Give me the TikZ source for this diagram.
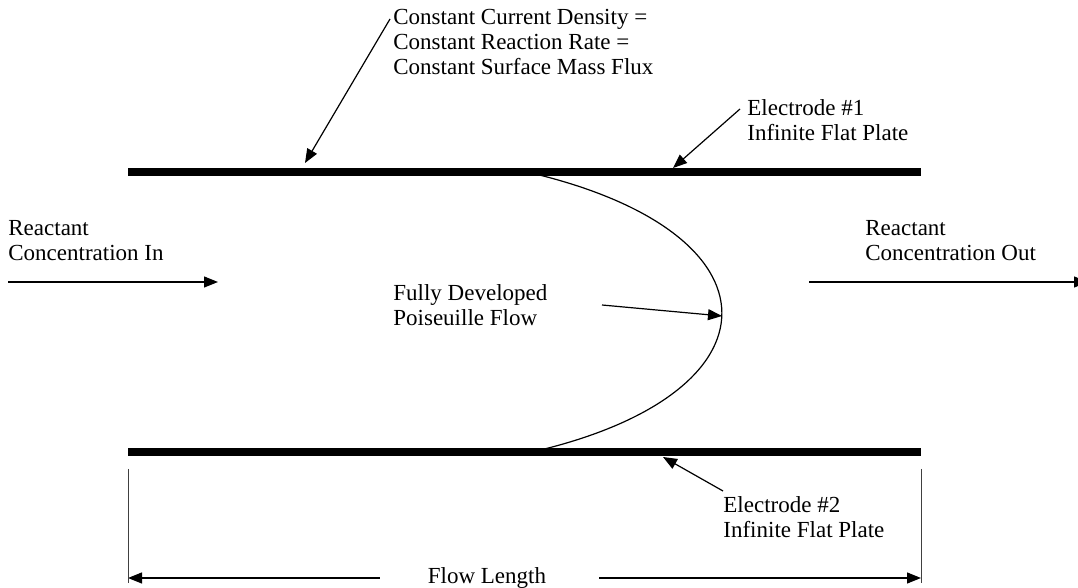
\documentclass[tikz,border=0pt]{standalone}
\usepackage{fontspec}
\setmainfont{Liberation Serif}
\usetikzlibrary{arrows.meta}
\begin{document}
\begin{tikzpicture}[x=0.5pt,y=-0.5pt,
  lbl/.style={font=\fontsize{11.5}{12.5}\selectfont, align=left, inner sep=0pt, anchor=north west},
  plate/.style={line width=4pt},
  thin/.style={line width=0.6pt},
  conn/.style={line width=0.6pt, -{Triangle[length=7pt,width=5.5pt]}},
  tick/.style={line width=0.45pt, black!75},
]
\useasboundingbox (0,0) rectangle (1078,588);
% plates
\coordinate (p1l) at (128,172);
\coordinate (p1r) at (921,172);
\coordinate (p2l) at (128,452);
\coordinate (p2r) at (921,452);
\draw[plate] (p1l) -- (p1r);
\draw[plate] (p2l) -- (p2r);
% velocity profile
\coordinate (ptop) at (527,172);
\coordinate (pbot) at (532,452);
\coordinate (apex) at (722,316);
\draw[thin] (ptop) .. controls (787,232) and (785,394) .. (pbot);
% labels
\node[lbl] (cc) at (393,9) {Constant Current Density =\\Constant Reaction Rate =\\Constant Surface Mass Flux};
\node[lbl] (e1) at (747,99) {Electrode \#1\\Infinite Flat Plate};
\node[lbl] (rin) at (8,220) {Reactant\\Concentration In};
\node[lbl] (rout) at (865,220) {Reactant\\Concentration Out};
\node[lbl] (fd) at (393,284) {Fully Developed\\Poiseuille Flow};
\node[lbl] (e2) at (723,496) {Electrode \#2\\Infinite Flat Plate};
\node[font=\fontsize{11.5}{12.5}\selectfont, inner sep=0pt, anchor=base] (fl) at (487,583) {Flow Length};
% arrow targets
\coordinate (ccTip) at (305,163);
\coordinate (e1Tip) at (673,168);
\coordinate (e2Tip) at (663,457);
\coordinate (inTail) at (8,282);
\coordinate (inTip) at (218,282);
\coordinate (outTail) at (809,282);
\coordinate (outTip) at (1088,282);
\coordinate (flL) at (128,578);
\coordinate (flR) at (921,578);
% connectors
\draw[conn] ([shift={(-3,10)}]cc.north west) -- (ccTip);
\draw[conn] ([shift={(-7,10)}]e1.north west) -- (e1Tip);
\draw[conn] ([shift={(0,-5)}]e2.north west) -- (e2Tip);
\draw[conn] ([shift={(209,21)}]fd.north west) -- (apex);
\draw[conn] (inTail) -- (inTip);
\draw[conn] (outTail) -- (outTip);
\draw[conn] (fl.west |- flL) ++(-48,0) -- (flL);
\draw[conn] (fl.east |- flR) ++(53,0) -- (flR);
% dimension ticks
\draw[tick] (128,469) -- (128,583);
\draw[tick] (921,469) -- (921,583);
\end{tikzpicture}
\end{document}
